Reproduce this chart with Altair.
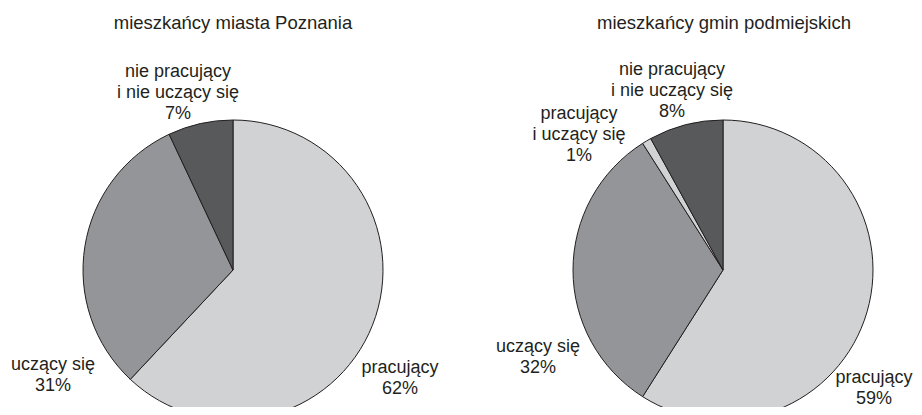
import altair as alt
import pandas as pd

# ---- data ----
CATEGORIES = ["pracujący", "uczący się", "pracujący i uczący się", "nie pracujący i nie uczący się"]
LABEL_TEXT = ["pracujący", "uczący się", "pracujący\ni uczący się", "nie pracujący\ni nie uczący się"]
COLORS = ["#d1d2d4", "#939598", "#d1d2d4", "#58595b"]

TITLES = ["mieszkańcy miasta Poznania", "mieszkańcy gmin podmiejskich"]

POZNAN_CATS = ["pracujący", "uczący się", "nie pracujący i nie uczący się"]
POZNAN_VALUES = [62, 31, 7]

SUBURB_CATS = ["pracujący", "uczący się", "pracujący i uczący się", "nie pracujący i nie uczący się"]
SUBURB_VALUES = [59, 32, 1, 8]

# ---- layout (pixels, chart coordinates) ----
W, H = 906, 399
R = 150
CENTERS = [(225, 262), (715, 262)]
TITLE_POS = [(225, 21), (716, 21)]
LABEL_POS_POZNAN = [(392, 365), (45, 362), (170, 69)]
LABEL_POS_SUBURB = [(866, 375), (530, 344), (571, 111), (664, 67)]

FONT = "Liberation Sans"
TEXT_COLOR = "#231f20"


def pie_df(cats, vals):
    return pd.DataFrame({
        "category": cats,
        "value": vals,
        "idx": [CATEGORIES.index(c) for c in cats],
    })


def label_df(cats, vals, pos):
    rows = []
    for c, v, (x, y) in zip(cats, vals, pos):
        rows.append({"text": f"{LABEL_TEXT[CATEGORIES.index(c)]}\n{v}%", "x": x, "y": y})
    return pd.DataFrame(rows)


color_scale = alt.Scale(domain=CATEGORIES, range=COLORS)


def pie_layer(df, center):
    return alt.Chart(df).mark_arc(
        outerRadius=R, stroke=TEXT_COLOR, strokeWidth=1, clip=True
    ).encode(
        theta=alt.Theta("value:Q", stack=True),
        color=alt.Color("category:N", scale=color_scale, legend=None),
        order=alt.Order("idx:Q"),
        x=alt.value(center[0]),
        y=alt.value(center[1]),
    )


pies = [
    pie_layer(pie_df(POZNAN_CATS, POZNAN_VALUES), CENTERS[0]),
    pie_layer(pie_df(SUBURB_CATS, SUBURB_VALUES), CENTERS[1]),
]

labels_df = pd.concat([
    label_df(POZNAN_CATS, POZNAN_VALUES, LABEL_POS_POZNAN),
    label_df(SUBURB_CATS, SUBURB_VALUES, LABEL_POS_SUBURB),
], ignore_index=True)

labels = alt.Chart(labels_df).mark_text(
    font=FONT, fontSize=18, color=TEXT_COLOR, align="center",
    baseline="alphabetic", lineBreak="\n", lineHeight=21,
).encode(
    x=alt.X("x:Q", scale=None),
    y=alt.Y("y:Q", scale=None),
    text="text:N",
)

titles_df = pd.DataFrame({
    "text": TITLES,
    "x": [p[0] for p in TITLE_POS],
    "y": [p[1] for p in TITLE_POS],
})
titles = alt.Chart(titles_df).mark_text(
    font=FONT, fontSize=18.5, color=TEXT_COLOR, align="center", baseline="alphabetic",
).encode(
    x=alt.X("x:Q", scale=None),
    y=alt.Y("y:Q", scale=None),
    text="text:N",
)

chart = alt.layer(*pies, labels, titles).resolve_scale(
    theta="independent"
).properties(
    width=W, height=H,
    autosize=alt.AutoSizeParams(type="none"),
    padding=0,
    background="white",
).configure_view(stroke=None)

chart.save("out.html", embed_options={"renderer": "svg", "actions": False})
